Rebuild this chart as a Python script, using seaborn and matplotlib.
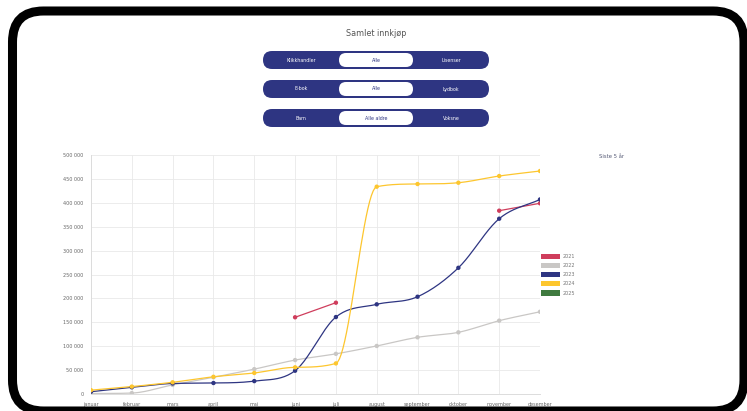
import numpy as np
import pandas as pd
import matplotlib
matplotlib.use("Agg")
import matplotlib.pyplot as plt
import seaborn as sns
from matplotlib.patches import FancyBboxPatch, Patch
from matplotlib.ticker import FuncFormatter, MultipleLocator

nan = np.nan

# data
months = ["januar", "februar", "mars", "april", "mai", "juni", "juli",
          "august", "september", "oktober", "november", "desember"]
years = ["2021", "2022", "2023", "2024", "2025"]
v2021 = [nan, nan, nan, nan, nan, 160500, 191000, nan, nan, nan, 383500, 399000]
v2022 = [1000, 2000, 19000, 35000, 52000, 71000, 84000, 100500, 118600, 129000, 153400, 172000]
v2023 = [4800, 14000, 22000, 23000, 27000, 48700, 161000, 187600, 203500, 264000, 366700, 407000]
v2024 = [8000, 15500, 24500, 36000, 44000, 55800, 64000, 433700, 439300, 442000, 456000, 466500]
v2025 = [nan] * 12

colors = {"2021": "#cf3d5c", "2022": "#c9c7c5", "2023": "#2e3582",
          "2024": "#fdc62e", "2025": "#3f7a3f"}

button_rows = [("Klikkhandler", "Alle", "Lisenser"),
               ("E-bok", "Alle", "Lydbok"),
               ("Barn", "Alle aldre", "Voksne")]

series = dict(zip(years, [v2021, v2022, v2023, v2024, v2025]))
df = pd.DataFrame([(y, i, v) for y, vals in series.items()
                   for i, v in enumerate(vals)], columns=["year", "month", "value"])
df = df.dropna()


def monotone(x, y, n=24):
    # monotone cubic curve through the points (like chart.js 'monotone')
    x = np.asarray(x, float)
    y = np.asarray(y, float)
    if len(x) < 3:
        return x, y
    dx = np.diff(x)
    d = np.diff(y) / dx
    m = np.zeros_like(y)
    m[0], m[-1] = d[0], d[-1]
    for i in range(1, len(x) - 1):
        m[i] = 0 if d[i - 1] * d[i] <= 0 else (d[i - 1] + d[i]) / 2
    for i in range(len(d)):
        if d[i] == 0:
            m[i] = m[i + 1] = 0
            continue
        a, b = m[i] / d[i], m[i + 1] / d[i]
        s = a * a + b * b
        if s > 9:
            t = 3 / np.sqrt(s)
            m[i], m[i + 1] = t * a * d[i], t * b * d[i]
    xs, ys = [], []
    for i in range(len(d)):
        t = np.linspace(0, 1, n)
        h00 = 2 * t**3 - 3 * t**2 + 1
        h10 = t**3 - 2 * t**2 + t
        h01 = -2 * t**3 + 3 * t**2
        h11 = t**3 - t**2
        xs.append(x[i] + t * dx[i])
        ys.append(h00 * y[i] + h10 * dx[i] * m[i] + h01 * y[i + 1] + h11 * dx[i] * m[i + 1])
    return np.concatenate(xs), np.concatenate(ys)


sns.set_theme(style="white")
plt.rcParams["font.family"] = ["DejaVu Sans"]

W, H = 747, 411
fig = plt.figure(figsize=(W / 100, H / 100), dpi=100)
fig.patch.set_facecolor("white")

ax = fig.add_axes([91 / W, 17 / H, (540 - 91) / W, (394 - 155) / H], zorder=1)
for yr in years:
    vals = np.array(series[yr], float)
    ok = ~np.isnan(vals)
    # split into runs without gaps
    runs, cur = [], []
    for i in range(12):
        if ok[i]:
            cur.append(i)
        elif cur:
            runs.append(cur)
            cur = []
    if cur:
        runs.append(cur)
    for r in runs:
        xs, ys = monotone(r, vals[r])
        ax.plot(xs, ys, color=colors[yr], lw=0.9, zorder=2)

sns.scatterplot(data=df, x="month", y="value", hue="year", palette=colors,
                s=10, linewidth=0, legend=False, ax=ax, zorder=3)

ax.set_xlim(0, 11)
ax.set_ylim(0, 500000)
ax.set_xticks(range(12))
ax.set_xticklabels(months)
ax.yaxis.set_major_locator(MultipleLocator(50000))
ax.yaxis.set_major_formatter(FuncFormatter(lambda v, p: f"{int(v):,}".replace(",", " ")))
ax.grid(True, color="#e9e9e9", lw=0.6)
ax.tick_params(axis="both", length=4, width=0.6, color="#e9e9e9",
               labelsize=3.5, labelcolor="#666666", pad=1.5)
for s in ["top", "right"]:
    ax.spines[s].set_visible(False)
for s in ["left", "bottom"]:
    ax.spines[s].set_color("#dcdcdc")
    ax.spines[s].set_linewidth(0.7)
ax.set_xlabel("")
ax.set_ylabel("")

# overlay in pixel coords for title, buttons, legend and frame
ov = fig.add_axes([0, 0, 1, 1], zorder=5)
ov.set_xlim(0, W)
ov.set_ylim(H, 0)
ov.axis("off")
ov.patch.set_alpha(0)

ov.text(376, 33, "Samlet innkjøp", ha="center", va="center", fontsize=5.8, color="#555555")

navy = "#2e3582"
for k, (left, mid, right) in enumerate(button_rows):
    y0 = 51 + 29 * k
    ov.add_patch(FancyBboxPatch((263, y0), 226, 18,
                                boxstyle="round,pad=0,rounding_size=9",
                                fc=navy, ec="none"))
    ov.add_patch(FancyBboxPatch((339, y0 + 2), 74, 14,
                                boxstyle="round,pad=0,rounding_size=7",
                                fc="white", ec="none"))
    ov.text(301, y0 + 9, left, ha="center", va="center", fontsize=3.4, color="white")
    ov.text(376, y0 + 9, mid, ha="center", va="center", fontsize=3.4, color=navy)
    ov.text(451, y0 + 9, right, ha="center", va="center", fontsize=3.4, color="white")

ov.text(612, 156, "Siste 5 år", ha="center", va="center", fontsize=3.8, color="#555a75")

handles = [Patch(fc=colors[y], ec="none") for y in years]
leg = fig.legend(handles, years, loc="upper left",
                 bbox_to_anchor=(541 / W, 1 - 254 / H), frameon=False,
                 fontsize=3.5, handlelength=3.9, handleheight=1.25,
                 handletextpad=0.6, labelspacing=0.8, borderpad=0,
                 borderaxespad=0)
for t in leg.get_texts():
    t.set_color("#777777")

# black rounded frame
ov.add_patch(FancyBboxPatch((12.5 + 31, 11 + 31), 744 - 12.5 - 62, 411 - 11 - 62,
                            boxstyle="round,pad=31",
                            fc="none", ec="black", lw=6.5))

fig.savefig("out.png", dpi=100, facecolor="white")
